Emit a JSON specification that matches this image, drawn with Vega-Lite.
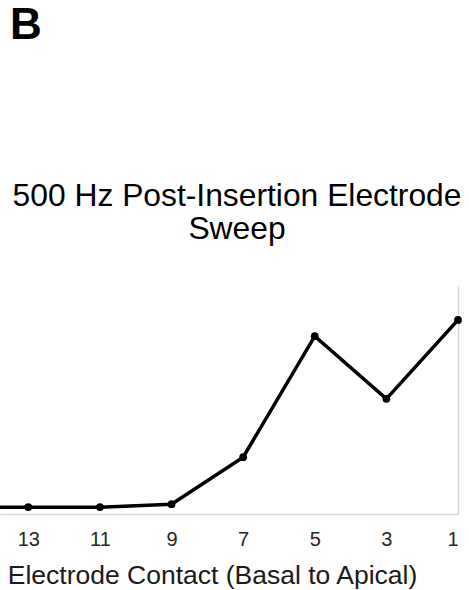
{
  "$schema": "https://vega.github.io/schema/vega-lite/v6.json",
  "padding": {"left": 0, "top": 4, "right": 0, "bottom": 0},
  "background": "white",
  "title": {
    "text": "B",
    "anchor": "start",
    "font": "Liberation Sans",
    "fontSize": 44,
    "fontWeight": "bold",
    "color": "#000000",
    "dx": 10,
    "offset": 133
  },
  "config": {"view": {"stroke": null}},
  "vconcat": [
    {
      "width": 458,
      "height": 228,
      "title": {
        "text": ["500 Hz Post-Insertion Electrode", "Sweep"],
        "anchor": "middle",
        "font": "Liberation Sans",
        "fontSize": 31.8,
        "fontWeight": "normal",
        "lineHeight": 33,
        "color": "#000000",
        "dx": 8,
        "offset": 40
      },
      "data": {
        "values": [
          {"contact": 15, "value": 3.0},
          {"contact": 13, "value": 3.0},
          {"contact": 11, "value": 3.0},
          {"contact": 9, "value": 4.3},
          {"contact": 7, "value": 24.9},
          {"contact": 5, "value": 78.0},
          {"contact": 3, "value": 50.5},
          {"contact": 1, "value": 85.1}
        ]
      },
      "encoding": {
        "x": {
          "field": "contact",
          "type": "quantitative",
          "scale": {"domain": [1, 13.79], "reverse": true, "nice": false, "zero": false},
          "axis": {
            "values": [13, 11, 9, 7, 5, 3, 1],
            "grid": false,
            "ticks": false,
            "domainColor": "#d9d9d9",
            "domainWidth": 1.5,
            "labelFont": "Liberation Sans",
            "labelFontSize": 20,
            "labelColor": "#262626",
            "labelPadding": 15,
            "title": "Electrode Contact (Basal to Apical)",
            "titleFont": "Liberation Sans",
            "titleFontSize": 26.5,
            "titleFontWeight": "normal",
            "titleColor": "#1a1a1a",
            "titlePadding": 13,
            "titleX": 212
          }
        },
        "y": {
          "field": "value",
          "type": "quantitative",
          "scale": {"domain": [0, 100], "nice": false},
          "axis": {
            "orient": "right",
            "labels": false,
            "ticks": false,
            "grid": false,
            "title": null,
            "domainColor": "#d9d9d9",
            "domainWidth": 1.5
          }
        }
      },
      "layer": [
        {"mark": {"type": "line", "color": "#000000", "strokeWidth": 3.5, "clip": true}},
        {
          "transform": [{"filter": "datum.contact <= 13"}],
          "mark": {"type": "point", "filled": true, "color": "#000000", "opacity": 1, "size": 60}
        }
      ]
    }
  ]
}
